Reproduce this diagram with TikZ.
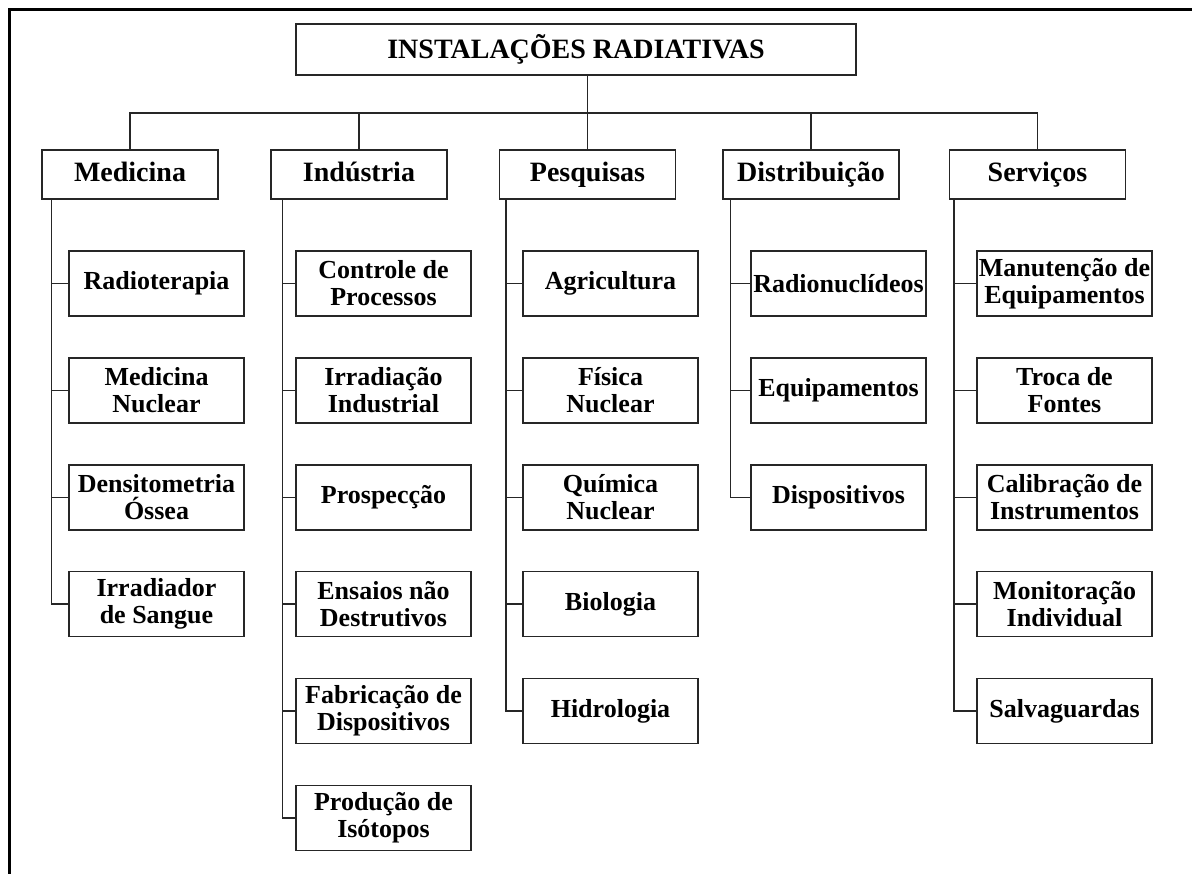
\documentclass[tikz,border=0pt]{standalone}
\usepackage{fontspec}
\setmainfont{Liberation Serif}
\tikzset{
  box/.style={draw=black!85, line width=1.5pt, align=center, inner sep=0pt,
    font=\bfseries\fontsize{26}{27}\selectfont},
  titlebox/.style={box, minimum width=560pt, minimum height=51pt,
    font=\bfseries\fontsize{28}{30}\selectfont},
  areabox/.style={box, minimum width=176pt, minimum height=49pt,
    text height=20pt, text depth=6pt,
    font=\bfseries\fontsize{28}{30}\selectfont},
  itembox/.style={box, minimum width=175pt, minimum height=65pt},
  link/.style={draw=black!85, line width=1.5pt}
}
\begin{document}
\begin{tikzpicture}[x=1pt,y=-1pt]
\useasboundingbox (0,0) rectangle (1192,874);
% frame
\draw[line width=3pt] (1192,10) -- (9,10) -- (9,874);

\node[titlebox] (title) at (576,49.5) {INSTALAÇÕES RADIATIVAS};

\node[areabox] (med) at (130,174.5) {Medicina};
\node[areabox] (ind) at (359,174.5) {Indústria};
\node[areabox] (pes) at (587.5,174.5) {Pesquisas};
\node[areabox] (dis) at (811,174.5) {Distribuição};
\node[areabox] (ser) at (1037.5,174.5) {Serviços};

% bus
\coordinate (bus) at (0,113);
\draw[link] (title.south -| pes.north) -- (pes.north);
\draw[link] (med.north) -- (med.north |- bus) -- (ser.north |- bus) -- (ser.north);
\foreach \a in {ind,dis}
  \draw[link] (\a.north) -- (\a.north |- bus);

% items
\foreach \t [count=\i] in {Radioterapia, {Medicina\\Nuclear},
    {Densitometria\\Óssea}, {Irradiador\\de Sangue}}
  \node[itembox] (med\i) at (156.5,{283.5+106.9*(\i-1)}) {\t};
\foreach \t [count=\i] in {{Controle de\\Processos}, {Irradiação\\Industrial},
    Prospecção, {Ensaios não\\Destrutivos}, {Fabricação de\\Dispositivos},
    {Produção de\\Isótopos}}
  \node[itembox] (ind\i) at (383.5,{283.5+106.9*(\i-1)}) {\t};
\foreach \t [count=\i] in {Agricultura, {Física\\Nuclear}, {Química\\Nuclear},
    Biologia, Hidrologia}
  \node[itembox] (pes\i) at (610.5,{283.5+106.9*(\i-1)}) {\t};
\foreach \t [count=\i] in {Radionuclídeos, Equipamentos, Dispositivos}
  \node[itembox] (dis\i) at (838.5,{283.5+106.9*(\i-1)}) {\t};
\foreach \t [count=\i] in {{Manutenção de\\Equipamentos}, {Troca de\\Fontes},
    {Calibração de\\Instrumentos}, {Monitoração\\Individual}, Salvaguardas}
  \node[itembox] (ser\i) at (1064.5,{283.5+106.9*(\i-1)}) {\t};

% spines
\foreach \a/\s/\n in {med/10/4, ind/12/6, pes/7/5, dis/8/3, ser/5/5}
  \foreach \i in {1,...,\n}
    \draw[link] ([xshift=\s pt]\a.south west) |- (\a\i.west);
\end{tikzpicture}
\end{document}
